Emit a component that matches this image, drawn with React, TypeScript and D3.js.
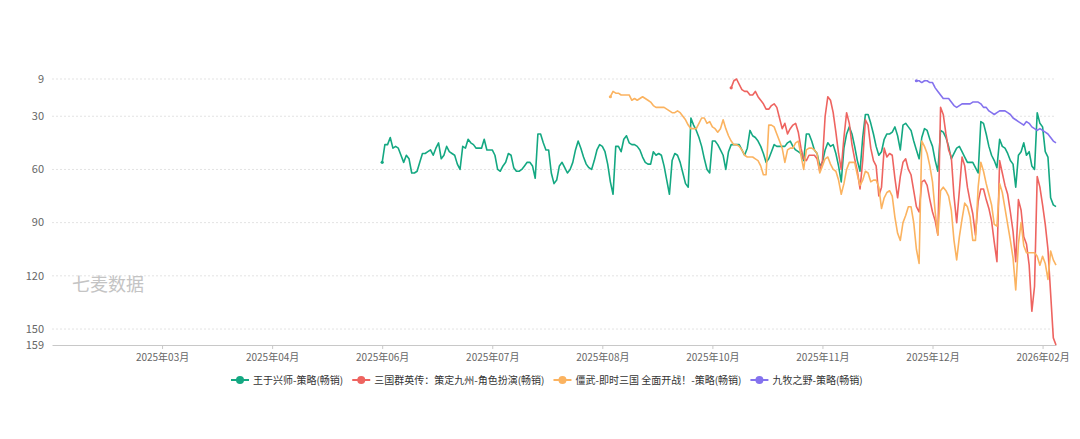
import * as d3 from "d3"
import { useEffect, useRef } from "react"

const W = 1080
const H = 439
const margin = { top: 79, right: 24, bottom: 94, left: 52 }

const START_DAY = new Date(2025, 0, 29)
const END_DAY = new Date(2026, 1, 7)
const LABEL_EVERY = 41

const yTicks = [9, 30, 60, 90, 120, 150, 159]

const seriesNames = [
  "王于兴师-策略(畅销)",
  "三国群英传：策定九州-角色扮演(畅销)",
  "僵武-即时三国 全面开战！-策略(畅销)",
  "九牧之野-策略(畅销)",
]
const seriesColors = ["#14a882", "#ee6460", "#fbb360", "#8472ee"]
const seriesStarts = ["2025-06-01", "2025-10-09", "2025-08-25", "2025-12-17"]

const wangValues = [
  56, 46, 46, 42, 48, 47, 48, 52, 56, 52,
  54, 62, 62, 61, 56, 51, 51, 50, 49, 52,
  48, 45, 54, 52, 47, 50, 51, 52, 57, 60,
  47, 48, 43, 45, 46, 48, 48, 48, 43, 49,
  49, 49, 52, 60, 61, 58, 56, 51, 52, 59,
  61, 61, 60, 58, 56, 56, 58, 65,
  40, 40, 45, 49, 49, 62, 68, 66, 58, 56,
  59, 62, 60, 56, 49, 44, 48, 53, 57, 59,
  60, 55, 49, 46, 47, 50, 57, 67, 74, 47,
  47, 50, 43, 41, 45, 46, 46, 47, 49, 53,
  56, 57, 57, 50, 52, 51, 52, 58, 66, 74,
  55, 51, 52, 56, 62, 68, 70, 31, 35, 38,
  42, 47, 54, 60, 62, 44, 44, 46, 49, 52,
  60, 50, 46, 46, 46, 46, 49, 52, 48, 38,
  41, 42, 44, 47, 51, 56, 54, 50, 46, 47,
  47, 47, 47, 45, 44, 47, 49, 50, 51, 55,
  40, 40, 44, 49, 51, 58, 56, 49, 45, 47,
  46, 51, 58, 67, 48, 40, 36, 40, 47, 55,
  61, 42, 29, 29, 34, 40, 47, 52, 50, 43,
  40, 40, 39, 36, 41, 49, 35, 34, 36, 38,
  44, 49, 54, 42, 37, 38, 43, 47, 55, 61,
  38, 39, 42, 47, 54, 51, 48, 47, 50, 53,
  56, 56, 56, 59, 62, 33, 34, 40, 47, 52,
  55, 59, 43, 47, 48, 51, 55, 57, 70, 52,
  50, 45, 52, 50, 58, 60, 28, 34, 36, 50,
  53, 76, 80, 81,
]

const sanguoValues = [
  14, 10, 9, 12, 15, 16, 16, 18, 18, 16,
  19, 21, 23, 26, 26, 24, 23, 25, 31, 37,
  34, 40, 37, 35, 34, 39, 48, 54, 55, 52,
  52, 52, 54, 61, 55, 30, 19, 21, 28, 39,
  51, 60, 42, 28, 34, 46, 54, 61, 71, 55,
  32, 35, 48, 55, 58, 75, 70, 48, 53, 51,
  52, 65, 76, 64, 56, 54, 60, 63, 72, 81,
  84, 67, 66, 69, 77, 84, 89, 97, 25, 29,
  40, 49, 53, 75, 90, 72, 53, 58, 70, 78,
  85, 97, 78, 71, 71, 77, 82, 89, 101, 112,
  55, 62, 69, 74, 84, 95, 112, 77, 83, 98,
  102, 114, 140, 126, 64, 70, 80, 91, 105, 130,
  155, 159,
]

const jiangwuValues = [
  19, 16, 17, 17, 18, 18, 18, 18, 21, 20,
  21, 20, 19, 20, 21, 22, 24, 25, 25, 25,
  25, 26, 27, 28, 28, 27, 28, 30, 32, 35,
  37, 37, 37, 34, 31, 31, 34, 33, 36, 37,
  39, 37, 32, 37, 41, 44, 46, 46, 47, 49,
  52, 53, 53, 53, 54, 55, 58, 63, 63, 35,
  35, 36, 40, 44, 48, 56, 49, 48, 48, 45,
  44, 52, 60, 49, 48, 48, 49, 51, 62, 58,
  54, 53, 57, 60, 61, 66, 74, 68, 60, 56,
  56, 56, 63, 69, 66, 61, 62, 67, 66, 66,
  70, 82, 76, 73, 72, 75, 87, 96, 100, 90,
  86, 81, 81, 90, 105, 113, 44, 47, 51, 58,
  67, 84, 97, 72, 70, 72, 75, 83, 100, 111,
  98, 88, 79, 81, 87, 100, 100, 70, 56, 61,
  68, 74, 80, 91, 92, 68, 73, 82, 91, 100,
  110, 128, 102, 90, 103, 107, 107, 107, 107, 109,
  114, 109, 113, 122, 106, 111, 114,
]

const jiumuValues = [
  10, 10, 11, 10, 10, 11, 11, 14, 16, 18,
  20, 20, 20, 22, 24, 25, 24, 23, 23, 23,
  23, 22, 22, 22, 23, 25, 25, 27, 28, 29,
  28, 27, 27, 27, 28, 29, 31, 32, 33, 34,
  35, 33, 34, 36, 37, 38, 37, 38, 39, 40,
  42, 44, 45,
]

const allValues = [wangValues, sanguoValues, jiangwuValues, jiumuValues]

const fmtKey = d3.timeFormat("%Y-%m-%d")
const fmtLabel = d3.timeFormat("%Y年%m月")
const parseKey = d3.timeParse("%Y-%m-%d")

export default function App() {
  const svgRef = useRef<SVGSVGElement | null>(null)

  useEffect(() => {
    if (!svgRef.current) return
    const svg = d3.select(svgRef.current)
    svg.selectAll("*").remove()

    const days = d3.timeDay.range(START_DAY, d3.timeDay.offset(END_DAY, 1)).map(fmtKey)

    const x = d3
      .scalePoint<string>()
      .domain(days)
      .range([margin.left, W - margin.right])
    const y = d3
      .scaleLinear()
      .domain([yTicks[0], yTicks[yTicks.length - 1]])
      .range([margin.top, H - margin.bottom])

    const font = "'Noto Sans CJK SC', 'Noto Sans', sans-serif"

    // grid lines
    svg
      .append("g")
      .selectAll("line")
      .data(yTicks.slice(0, -1))
      .join("line")
      .attr("x1", margin.left)
      .attr("x2", W - margin.right)
      .attr("y1", (d) => y(d))
      .attr("y2", (d) => y(d))
      .attr("stroke", "#e3e3e3")
      .attr("stroke-dasharray", "2,2")

    // y labels
    svg
      .append("g")
      .selectAll("text")
      .data(yTicks)
      .join("text")
      .attr("x", margin.left - 8)
      .attr("y", (d) => y(d))
      .attr("dy", "0.35em")
      .attr("text-anchor", "end")
      .style("font-family", font)
      .style("font-size", "11px")
      .style("fill", "#666")
      .text((d) => d)

    // x axis
    const tickDays = days.filter((_, i) => i > 0 && i % LABEL_EVERY === 0)
    const xAxis = svg
      .append("g")
      .attr("transform", `translate(0,${H - margin.bottom})`)
      .call(
        d3
          .axisBottom(x)
          .tickValues(tickDays)
          .tickSize(4)
          .tickSizeOuter(0)
          .tickFormat((d) => fmtLabel(parseKey(d as string)!)),
      )
    xAxis.select(".domain").attr("stroke", "#c8c8c8")
    xAxis.selectAll(".tick line").attr("stroke", "#c8c8c8")
    xAxis
      .selectAll(".tick text")
      .attr("dy", "0.9em")
      .style("font-family", font)
      .style("font-size", "10px")
      .style("fill", "#666")

    // watermark
    svg
      .append("text")
      .attr("x", 72)
      .attr("y", 291)
      .style("font-family", font)
      .style("font-size", "18px")
      .style("fill", "#c4c4c4")
      .text("七麦数据")

    // lines
    const line = d3
      .line<{ day: string; v: number }>()
      .x((d) => x(d.day)!)
      .y((d) => y(d.v))

    allValues.forEach((vals, s) => {
      const i0 = days.indexOf(seriesStarts[s])
      const pts = vals.map((v, i) => ({ day: days[i0 + i], v })).filter((p) => p.day !== undefined)
      svg
        .append("path")
        .datum(pts)
        .attr("d", line)
        .attr("fill", "none")
        .attr("stroke", seriesColors[s])
        .attr("stroke-width", 1.6)
        .attr("stroke-linejoin", "round")
      svg
        .append("circle")
        .attr("cx", x(pts[0].day)!)
        .attr("cy", y(pts[0].v))
        .attr("r", 1.6)
        .attr("fill", seriesColors[s])
    })

    // legend
    const legend = svg.append("g").attr("transform", "translate(0,380)")
    let lx = 231
    seriesNames.forEach((name, s) => {
      const g = legend.append("g").attr("transform", `translate(${lx},0)`)
      g.append("line").attr("x1", 0).attr("x2", 18).attr("stroke", seriesColors[s]).attr("stroke-width", 2)
      g.append("circle").attr("cx", 9).attr("r", 4).attr("fill", seriesColors[s])
      const t = g
        .append("text")
        .attr("x", 22)
        .attr("dy", "0.35em")
        .style("font-family", font)
        .style("font-size", "10px")
        .style("fill", "#333")
        .text(name)
      const tw = (t.node() as SVGTextElement).getComputedTextLength()
      lx += 22 + tw + 9
    })
  }, [])

  return (
    <svg
      ref={svgRef}
      width={W}
      height={H}
      style={{ position: "absolute", left: 0, top: 0, background: "#fff" }}
      xmlns="http://www.w3.org/2000/svg"
    />
  )
}
